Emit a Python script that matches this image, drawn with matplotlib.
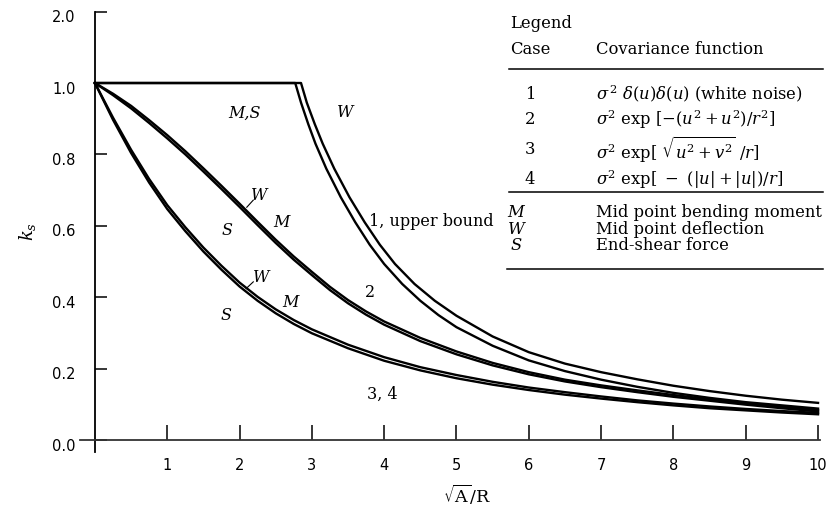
import numpy as np
import matplotlib.pyplot as plt
from matplotlib.lines import Line2D
from matplotlib.transforms import ScaledTranslation

plt.rcParams['mathtext.fontset'] = 'dejavuserif'

# case 1 (upper bound), two curves: M,S and W
c1_ms_x = [0, 2.77, 2.85, 2.95, 3.05, 3.2, 3.4, 3.6, 3.8, 4.0, 4.25, 4.5, 4.75, 5.0, 5.5, 6.0, 6.5, 7.0, 7.5, 8.0, 8.5, 9.0, 9.5, 10.0]
c1_ms_y = [1.0, 1.0, 0.945, 0.885, 0.83, 0.76, 0.68, 0.61, 0.547, 0.493, 0.437, 0.39, 0.35, 0.316, 0.264, 0.223, 0.193, 0.169, 0.149, 0.132, 0.118, 0.106, 0.097, 0.088]
c1_w_x = [0, 2.85, 2.93, 3.04, 3.15, 3.31, 3.52, 3.73, 3.94, 4.15, 4.42, 4.7, 5.0, 5.5, 6.0, 6.5, 7.0, 7.5, 8.0, 8.5, 9.0, 9.5, 10.0]
c1_w_y = [1.0, 1.0, 0.945, 0.885, 0.83, 0.76, 0.68, 0.61, 0.547, 0.493, 0.437, 0.39, 0.348, 0.29, 0.246, 0.214, 0.19, 0.17, 0.152, 0.137, 0.124, 0.113, 0.104]

# case 2
c2_x = [0, 0.25, 0.5, 0.75, 1.0, 1.25, 1.5, 1.75, 2.0, 2.25, 2.5, 2.75, 3.0, 3.25, 3.5, 3.75, 4.0, 4.5, 5.0, 5.5, 6.0, 6.5, 7.0, 7.5, 8.0, 8.5, 9.0, 9.5, 10.0]
c2_ms = [1.0, 0.966, 0.929, 0.888, 0.845, 0.8, 0.752, 0.703, 0.653, 0.602, 0.552, 0.505, 0.462, 0.42, 0.383, 0.351, 0.323, 0.277, 0.24, 0.209, 0.184, 0.164, 0.148, 0.134, 0.121, 0.11, 0.099, 0.089, 0.08]
c2_w = [1.0, 0.97, 0.936, 0.896, 0.854, 0.809, 0.761, 0.712, 0.662, 0.611, 0.561, 0.514, 0.471, 0.429, 0.392, 0.36, 0.332, 0.286, 0.248, 0.216, 0.19, 0.169, 0.153, 0.139, 0.126, 0.114, 0.103, 0.093, 0.084]

# cases 3, 4
c34_x = [0, 0.25, 0.5, 0.75, 1.0, 1.25, 1.5, 1.75, 2.0, 2.25, 2.5, 2.75, 3.0, 3.5, 4.0, 4.5, 5.0, 5.5, 6.0, 6.5, 7.0, 7.5, 8.0, 8.5, 9.0, 9.5, 10.0]
c34_w = [1.0, 0.903, 0.813, 0.731, 0.658, 0.596, 0.539, 0.488, 0.441, 0.401, 0.366, 0.336, 0.31, 0.267, 0.232, 0.204, 0.182, 0.163, 0.147, 0.134, 0.122, 0.111, 0.102, 0.094, 0.087, 0.081, 0.076]
c34_ms = [1.0, 0.897, 0.804, 0.721, 0.647, 0.585, 0.528, 0.477, 0.43, 0.39, 0.355, 0.325, 0.299, 0.257, 0.222, 0.195, 0.173, 0.155, 0.14, 0.127, 0.116, 0.106, 0.097, 0.089, 0.083, 0.077, 0.072]

xticks = [1, 2, 3, 4, 5, 6, 7, 8, 9, 10]
yticks = [0.0, 0.2, 0.4, 0.6, 0.8, 1.0, 1.2]
ylabels = ['0.0', '0.2', '0.4', '0.6', '0.8', '1.0', '2.0']

W, H = 827, 507
def fx(px): return px / W
def fy(py): return 1 - py / H

fig = plt.figure(figsize=(8.27, 5.07), dpi=100)
ax = fig.add_axes([0.0973, 0.1075, 0.8945, 0.8696])
ax.set_xlim(-0.2, 10.03)
ax.set_ylim(-0.035, 1.2)

for s in ['top', 'right']:
    ax.spines[s].set_visible(False)
ax.spines['left'].set_position(('data', 0))
ax.spines['bottom'].set_position(('data', 0))
ax.spines['left'].set_linewidth(1.3)
ax.spines['bottom'].set_linewidth(1.3)
ax.spines['bottom'].set_color('#333333')

ax.set_xticks(xticks)
ax.set_xticklabels([str(t) for t in xticks])
ax.set_yticks(yticks)
ax.set_yticklabels(ylabels)
ax.tick_params(axis='x', direction='in', length=11, width=1.1, pad=13, labelsize=10.5)
ax.tick_params(axis='y', direction='in', length=8.5, width=1.1, pad=14, labelsize=10.5)
for t in ax.get_yticklabels():
    t.set_transform(t.get_transform() + ScaledTranslation(0, -0.045, fig.dpi_scale_trans))

lw = 1.7
ax.plot(c1_ms_x, c1_ms_y, color='black', lw=lw)
ax.plot(c1_w_x, c1_w_y, color='black', lw=lw)
ax.plot(c2_x, c2_ms, color='black', lw=lw)
ax.plot(c2_x, c2_w, color='black', lw=lw)
ax.plot(c34_x, c34_ms, color='black', lw=lw)
ax.plot(c34_x, c34_w, color='black', lw=lw)

# curve labels
lab = dict(family='DejaVu Serif', fontsize=11.5, ha='center', va='center')
ax.text(2.07, 0.916, 'M,S', style='italic', **lab)
ax.text(3.46, 0.916, 'W', style='italic', **lab)
ax.text(3.79, 0.612, '1, upper bound', family='DejaVu Serif', fontsize=11.5, ha='left', va='center')
ax.text(2.27, 0.685, 'W', style='italic', **lab)
ax.text(2.58, 0.61, 'M', style='italic', **lab)
ax.text(1.83, 0.588, 'S', style='italic', **lab)
ax.text(2.30, 0.455, 'W', style='italic', **lab)
ax.text(2.70, 0.384, 'M', style='italic', **lab)
ax.text(1.81, 0.35, 'S', style='italic', **lab)
ax.text(3.80, 0.412, '2', **lab)
ax.text(3.98, 0.129, '3, 4', **lab)
ax.plot([2.19, 2.10], [0.672, 0.652], color='black', lw=0.8)
ax.plot([2.19, 2.09], [0.443, 0.424], color='black', lw=0.8)

# axis labels
fig.text(fx(27), fy(232), r'$k_s$', rotation=90, fontsize=13, ha='center', va='center')
fig.text(fx(467), fy(495), r'$\sqrt{\mathrm{A}}\mathrm{/R}$', fontsize=12.5, ha='center', va='center')

# legend table
tx = dict(family='DejaVu Serif', fontsize=11.8, va='center')
fig.text(fx(510), fy(24), 'Legend', ha='left', **tx)
fig.text(fx(510), fy(49), 'Case', ha='left', **tx)
fig.text(fx(596), fy(49), 'Covariance function', ha='left', **tx)
fig.add_artist(Line2D([fx(509), fx(823)], [fy(69), fy(69)], color='black', lw=1.1))

cases = ['1', '2', '3', '4']
funcs = [r'$\sigma^{\,2}\ \delta(u)\delta(u)$ (white noise)',
         r'$\sigma^2$ exp $[-(u^2+u^2)/r^2]$',
         r'$\sigma^2$ exp$[\ \sqrt{u^2+v^2}\ /r]$',
         r'$\sigma^2$ exp$[\ -\ (|u|+|u|)/r]$']
rows_y = [94, 120, 150, 180]
for c, f, yy in zip(cases, funcs, rows_y):
    fig.text(fx(530), fy(yy), c, ha='center', **tx)
    fig.text(fx(596), fy(yy), f, ha='left', **tx)
fig.add_artist(Line2D([fx(509), fx(823)], [fy(192), fy(192)], color='black', lw=1.1))

syms = ['M', 'W', 'S']
descs = ['Mid point bending moment', 'Mid point deflection', 'End-shear force']
sym_y = [213, 230, 246]
for s, d, yy in zip(syms, descs, sym_y):
    fig.text(fx(516), fy(yy), s, ha='center', style='italic', **tx)
    fig.text(fx(596), fy(yy), d, ha='left', **tx)
fig.add_artist(Line2D([fx(507), fx(823)], [fy(269), fy(269)], color='black', lw=1.1))

fig.savefig('out.png', dpi=100)
